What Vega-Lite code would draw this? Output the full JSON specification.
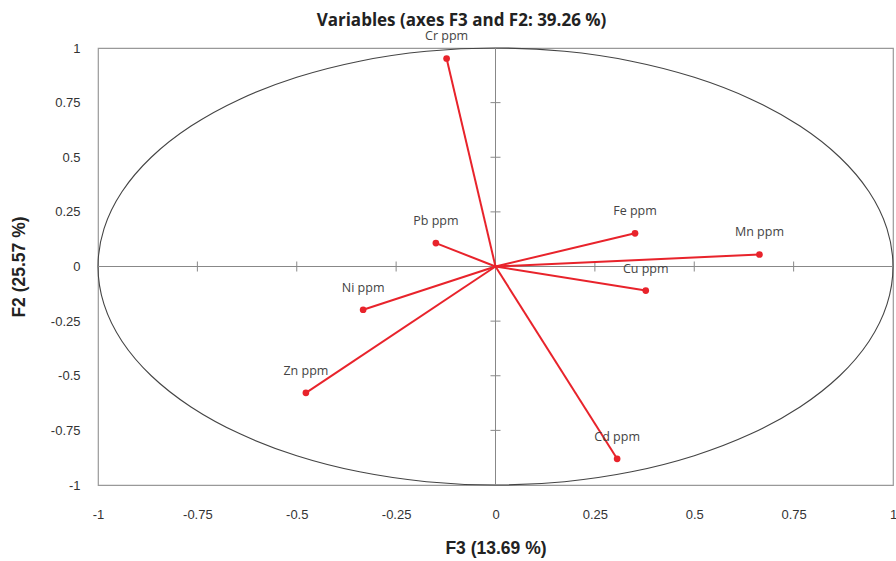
{
  "$schema": "https://vega.github.io/schema/vega-lite/v6.json",
  "autosize": "none",
  "width": 795,
  "height": 437,
  "padding": {"left": 98, "top": 48, "right": 3, "bottom": 76},
  "background": "white",
  "title": {
    "text": "Variables (axes F3 and F2: 39.26 %)",
    "font": "Open Sans",
    "fontSize": 17,
    "fontWeight": "bold",
    "color": "#222",
    "anchor": "middle",
    "frame": "group",
    "dx": -34,
    "offset": 0
  },
  "config": {
    "view": {"stroke": "#999", "strokeWidth": 1.2},
    "axis": {
      "grid": false,
      "ticks": false,
      "domain": false,
      "labelFont": "Liberation Sans Narrow, Liberation Sans",
      "labelFontSize": 13,
      "labelColor": "#333",
      "labelFlush": false,
      "labelOverlap": false,
      "labelExpr": "'' + datum.value",
      "titleFont": "Liberation Sans Narrow, Liberation Sans",
      "titleFontSize": 17.5,
      "titleFontWeight": "bold",
      "titleColor": "#222"
    }
  },
  "datasets": {
    "vars": [
      {"name": "Cr ppm", "x": -0.123, "y": 0.952},
      {"name": "Pb ppm", "x": -0.15, "y": 0.107},
      {"name": "Fe ppm", "x": 0.351, "y": 0.152},
      {"name": "Mn ppm", "x": 0.664, "y": 0.055},
      {"name": "Cu ppm", "x": 0.378, "y": -0.11},
      {"name": "Ni ppm", "x": -0.333, "y": -0.198},
      {"name": "Zn ppm", "x": -0.477, "y": -0.578},
      {"name": "Cd ppm", "x": 0.306, "y": -0.88}
    ],
    "circle": [
      {"i": 0, "cx": 1, "cy": 0},
      {"i": 1, "cx": 0.9848, "cy": 0.1736},
      {"i": 2, "cx": 0.9397, "cy": 0.342},
      {"i": 3, "cx": 0.866, "cy": 0.5},
      {"i": 4, "cx": 0.766, "cy": 0.6428},
      {"i": 5, "cx": 0.6428, "cy": 0.766},
      {"i": 6, "cx": 0.5, "cy": 0.866},
      {"i": 7, "cx": 0.342, "cy": 0.9397},
      {"i": 8, "cx": 0.1736, "cy": 0.9848},
      {"i": 9, "cx": 0, "cy": 1},
      {"i": 10, "cx": -0.1736, "cy": 0.9848},
      {"i": 11, "cx": -0.342, "cy": 0.9397},
      {"i": 12, "cx": -0.5, "cy": 0.866},
      {"i": 13, "cx": -0.6428, "cy": 0.766},
      {"i": 14, "cx": -0.766, "cy": 0.6428},
      {"i": 15, "cx": -0.866, "cy": 0.5},
      {"i": 16, "cx": -0.9397, "cy": 0.342},
      {"i": 17, "cx": -0.9848, "cy": 0.1736},
      {"i": 18, "cx": -1, "cy": 0},
      {"i": 19, "cx": -0.9848, "cy": -0.1736},
      {"i": 20, "cx": -0.9397, "cy": -0.342},
      {"i": 21, "cx": -0.866, "cy": -0.5},
      {"i": 22, "cx": -0.766, "cy": -0.6428},
      {"i": 23, "cx": -0.6428, "cy": -0.766},
      {"i": 24, "cx": -0.5, "cy": -0.866},
      {"i": 25, "cx": -0.342, "cy": -0.9397},
      {"i": 26, "cx": -0.1736, "cy": -0.9848},
      {"i": 27, "cx": 0, "cy": -1},
      {"i": 28, "cx": 0.1736, "cy": -0.9848},
      {"i": 29, "cx": 0.342, "cy": -0.9397},
      {"i": 30, "cx": 0.5, "cy": -0.866},
      {"i": 31, "cx": 0.6428, "cy": -0.766},
      {"i": 32, "cx": 0.766, "cy": -0.6428},
      {"i": 33, "cx": 0.866, "cy": -0.5},
      {"i": 34, "cx": 0.9397, "cy": -0.342},
      {"i": 35, "cx": 0.9848, "cy": -0.1736}
    ],
    "ticks": [
      {"v": -0.75}, {"v": -0.5}, {"v": -0.25}, {"v": 0.25}, {"v": 0.5}, {"v": 0.75}
    ],
    "one": [{"o": 0}]
  },
  "layer": [
    {
      "data": {"name": "circle"},
      "mark": {"type": "line", "interpolate": "cardinal-closed", "stroke": "#444", "strokeWidth": 1.1},
      "encoding": {
        "x": {
          "field": "cx", "type": "quantitative",
          "scale": {"domain": [-1, 1], "nice": false, "zero": false},
          "axis": {
            "values": [-1, -0.75, -0.5, -0.25, 0, 0.25, 0.5, 0.75, 1],
            "labelPadding": 23,
            "title": "F3 (13.69 %)",
            "titlePadding": 18
          }
        },
        "y": {
          "field": "cy", "type": "quantitative",
          "scale": {"domain": [-1, 1], "nice": false, "zero": false},
          "axis": {
            "values": [-1, -0.75, -0.5, -0.25, 0, 0.25, 0.5, 0.75, 1],
            "labelPadding": 18,
            "title": "F2 (25.57 %)",
            "titlePadding": 22
          }
        },
        "order": {"field": "i", "type": "quantitative"}
      }
    },
    {
      "data": {"name": "one"},
      "mark": {"type": "rule", "stroke": "#888", "strokeWidth": 1},
      "encoding": {"x": {"field": "o", "type": "quantitative"}}
    },
    {
      "data": {"name": "one"},
      "mark": {"type": "rule", "stroke": "#888", "strokeWidth": 1},
      "encoding": {"y": {"field": "o", "type": "quantitative"}}
    },
    {
      "data": {"name": "ticks"},
      "mark": {"type": "tick", "orient": "vertical", "color": "#888", "size": 10, "thickness": 1, "opacity": 1},
      "encoding": {
        "x": {"field": "v", "type": "quantitative"},
        "y": {"datum": 0, "type": "quantitative"}
      }
    },
    {
      "data": {"name": "ticks"},
      "mark": {"type": "tick", "orient": "horizontal", "color": "#888", "size": 10, "thickness": 1, "opacity": 1},
      "encoding": {
        "y": {"field": "v", "type": "quantitative"},
        "x": {"datum": 0, "type": "quantitative"}
      }
    },
    {
      "data": {"name": "vars"},
      "mark": {"type": "rule", "stroke": "#e8232b", "strokeWidth": 2},
      "encoding": {
        "x": {"field": "x", "type": "quantitative"},
        "y": {"field": "y", "type": "quantitative"},
        "x2": {"datum": 0},
        "y2": {"datum": 0}
      }
    },
    {
      "data": {"name": "vars"},
      "mark": {"type": "point", "filled": true, "color": "#e8232b", "size": 45, "opacity": 1},
      "encoding": {
        "x": {"field": "x", "type": "quantitative"},
        "y": {"field": "y", "type": "quantitative"}
      }
    },
    {
      "data": {"name": "vars"},
      "mark": {"type": "text", "dy": -22, "font": "Open Sans", "fontSize": 12.5, "fill": "#444", "align": "center", "baseline": "middle"},
      "encoding": {
        "x": {"field": "x", "type": "quantitative"},
        "y": {"field": "y", "type": "quantitative"},
        "text": {"field": "name"}
      }
    }
  ]
}
